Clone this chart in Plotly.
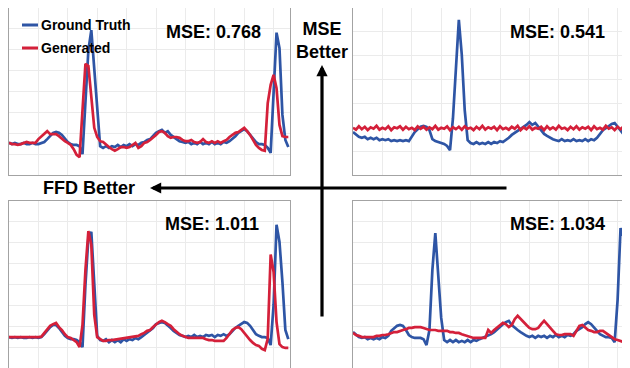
import numpy as np
import plotly.graph_objects as go

# ---------------- data ----------------
DT = 0.02  # seconds per sample

# Panel A (top-left)  MSE 0.768
gt_a = [0.02,-0.01,0.02,-0.01,-0.01,0.02,-0.01,-0.01,0.02,-0.01,-0.01,0.02,
        0.04,0.11,0.18,0.26,0.28,0.26,0.21,0.11,0.04,-0.01,-0.03,-0.03,-0.06,-0.25,
        0.93,2.24,2.72,1.77,0.93,-0.06,
        -0.10,-0.06,-0.10,-0.06,-0.08,-0.03,-0.08,-0.03,-0.06,-0.01,-0.06,-0.01,-0.03,0.02,
        0.04,0.09,0.11,0.18,0.26,0.30,0.33,0.26,0.30,0.21,0.16,0.09,0.06,0.04,
        0.02,0.04,-0.01,0.02,-0.01,0.04,-0.01,0.02,-0.01,0.04,-0.01,0.02,-0.01,0.04,0.02,
        0.06,0.11,0.18,0.26,0.30,0.35,0.30,0.21,0.11,0.04,-0.01,-0.01,-0.03,-0.10,-0.22,
        1.17,2.66,2.29,0.69,0.09,-0.08]
gen_a = [0.02,-0.01,-0.01,-0.03,-0.01,0.02,0.04,0.02,0.02,0.02,
         0.11,0.18,0.23,0.30,0.23,0.23,0.23,0.18,0.11,0.06,0.02,-0.03,-0.13,-0.27,-0.32,
         0.69,1.91,1.86,1.17,0.38,0.16,
         0.06,0.04,-0.03,-0.08,-0.13,-0.17,-0.13,-0.08,-0.08,-0.10,-0.08,-0.03,0.02,-0.10,-0.06,
         0.02,0.04,0.09,0.14,0.21,0.28,0.30,0.26,
         0.18,0.14,0.16,0.16,0.14,0.09,0.06,0.06,0.09,0.04,0.02,0.04,0.11,0.04,0.02,0.06,0.02,0.06,0.02,0.06,
         0.09,0.16,0.21,0.26,0.28,0.33,0.38,0.30,0.21,0.09,-0.03,-0.10,-0.15,-0.17,
         0.97,1.41,1.65,1.33,0.45,0.18,0.16,0.16]

# Panel B (top-right)  MSE 0.541
gt_b = [0.15,0.09,0.05,0.03,0.05,0.00,0.03,0.00,0.03,-0.02,0.00,-0.02,0.00,-0.04,-0.02,-0.04,-0.02,-0.04,-0.02,-0.04,
        0.07,0.15,0.21,0.26,0.28,0.26,0.19,0.00,-0.04,-0.06,-0.08,-0.10,-0.14,-0.23,
        0.44,1.45,2.50,1.77,0.61,-0.02,
        -0.08,-0.10,-0.06,-0.10,-0.08,-0.10,-0.06,-0.10,-0.06,-0.08,-0.04,-0.06,-0.02,
        0.03,0.09,0.13,0.17,0.21,0.26,0.30,0.36,0.30,0.34,0.26,0.17,0.11,0.07,0.03,0.00,-0.02,
        -0.04,0.00,-0.04,-0.02,-0.04,0.00,-0.04,-0.02,-0.04,0.00,-0.04,0.00,-0.02,0.03,
        0.11,0.19,0.23,0.28,0.32,0.34,0.26,0.19,0.09,0.03,0.00]
gen_b = [0.24,0.20,0.27,0.21,0.26,0.19,0.25,0.22,0.28,0.20,
         0.24,0.21,0.27,0.19,0.25,0.23,0.27,0.20,0.26,0.21,
         0.24,0.19,0.27,0.22,0.26,0.20,0.25,0.21,0.28,0.20,
         0.24,0.22,0.27,0.19,0.25,0.21,0.26,0.20,0.27,0.22,
         0.24,0.19,0.26,0.21,0.28,0.20,0.25,0.22,0.26,0.19,
         0.27,0.21,0.24,0.20,0.26,0.22,0.28,0.19,0.25,0.21,
         0.27,0.20,0.24,0.22,0.26,0.19,0.27,0.21,0.25,0.20,
         0.28,0.22,0.24,0.19,0.26,0.21,0.27,0.20,0.25,0.22,
         0.26,0.19,0.27,0.21,0.24,0.20,0.28,0.22,0.25,0.19,
         0.26,0.21,0.27,0.20,0.24]

# Panel C (bottom-left)  MSE 1.011
gt_c = [-0.01,-0.03,-0.01,-0.03,-0.01,-0.03,-0.03,-0.01,-0.03,-0.01,-0.03,-0.01,
        0.06,0.16,0.23,0.28,0.28,0.21,0.11,0.02,-0.03,-0.06,-0.06,-0.08,-0.13,-0.25,
        1.24,2.36,2.51,1.12,0.02,-0.08,
        -0.10,-0.06,-0.13,-0.08,-0.13,-0.08,-0.13,-0.06,-0.10,-0.06,-0.08,-0.03,-0.06,
        -0.01,0.04,0.09,0.14,0.21,0.30,0.33,0.35,0.33,0.28,0.21,0.14,0.09,0.04,0.02,
        -0.01,0.02,-0.01,0.04,-0.01,0.02,-0.01,0.04,0.02,0.04,-0.01,0.04,0.02,0.06,0.02,0.06,
        0.14,0.21,0.26,0.30,0.35,0.33,0.26,0.16,0.06,0.02,-0.01,-0.01,-0.03,-0.20,
        0.76,2.68,2.27,1.31,0.16,-0.06]
gen_c = [-0.01,-0.01,-0.02,-0.01,-0.02,-0.01,-0.01,-0.02,-0.01,-0.01,-0.01,0.00,
         0.09,0.18,0.26,0.30,0.33,0.23,0.16,0.06,-0.01,-0.03,-0.08,-0.13,-0.25,
         0.28,1.60,2.53,2.20,0.52,-0.01,-0.06,
         -0.10,-0.10,-0.08,-0.08,-0.07,-0.06,-0.05,-0.04,-0.03,-0.02,-0.01,0.00,0.02,
         0.06,0.09,0.14,0.16,0.23,0.30,0.35,0.38,0.35,0.30,0.26,0.18,0.11,0.06,0.02,-0.01,-0.03,
         -0.03,-0.03,-0.03,-0.03,-0.03,-0.06,-0.08,-0.08,-0.10,-0.10,-0.10,-0.10,
         -0.03,0.06,0.16,0.21,0.23,0.18,0.09,-0.01,-0.08,-0.15,-0.20,-0.22,-0.29,-0.32,
         -0.05,1.97,1.55,0.35,-0.18,-0.25,-0.27,-0.27]

# Panel D (bottom-right)  MSE 1.034
gt_d = [0.11,0.04,-0.01,-0.03,-0.01,-0.06,-0.03,-0.06,-0.03,-0.06,-0.01,-0.03,0.02,
        0.14,0.21,0.26,0.28,0.26,0.16,0.04,-0.01,-0.03,-0.03,-0.03,-0.06,-0.20,
        0.16,1.60,2.48,1.55,0.45,-0.08,
        -0.13,-0.08,-0.13,-0.08,-0.13,-0.10,-0.13,-0.08,-0.13,-0.08,-0.10,-0.06,
        -0.03,-0.01,0.02,0.06,0.11,0.18,0.23,0.30,0.35,0.38,0.28,0.21,0.16,0.11,0.06,0.02,
        -0.01,0.02,-0.03,0.02,-0.01,0.02,-0.03,0.02,-0.01,0.04,-0.01,0.02,-0.01,0.04,0.02,0.06,
        0.14,0.18,0.23,0.30,0.35,0.30,0.23,0.14,0.06,0.02,-0.01,-0.01,-0.03,-0.13,
        0.88,2.60,2.40,0.64,0.09]
gen_d = [0.09,0.04,0.02,-0.01,-0.01,-0.01,-0.01,-0.01,0.02,0.02,0.04,0.04,0.06,0.09,0.11,0.11,0.14,0.16,0.18,0.21,
         0.21,0.23,0.23,0.23,0.21,0.18,0.16,0.16,0.16,0.14,0.14,0.14,0.14,0.11,0.11,0.09,0.09,0.06,0.04,0.02,
         -0.01,-0.03,-0.03,-0.03,-0.03,-0.03,0.16,0.09,0.16,0.21,0.28,0.33,0.30,0.23,0.28,0.42,0.50,0.42,0.35,0.28,
         0.21,0.18,0.18,0.21,0.30,0.38,0.30,0.23,0.14,0.06,0.04,0.04,0.06,0.06,0.06,0.02,0.14,0.26,0.28,0.21,
         0.16,0.14,0.11,0.11,0.14,0.14,0.09,0.02,-0.03,-0.06,-0.08,-0.10,-0.13,-0.15,-0.13]

mse_labels = ["MSE: 0.768", "MSE: 0.541", "MSE: 1.011", "MSE: 1.034"]
series_names = ["Ground Truth", "Generated"]

# ---------------- style ----------------
OFF = 8                      # page body margin
W, H = 630 - OFF, 368 - OFF  # figure size that fits the window
BLUE = "#2E55A5"
RED = "#D4203A"
GRID = "#ebebeb"
BORDER = "#a3a3a3"
FONT = "Liberation Sans, Arial, sans-serif"

def px_x(p):
    return (p - OFF) / W

def px_y(p):
    return 1 - (p - OFF) / H

left_dom = [px_x(9), px_x(290)]
right_dom = [px_x(353), 1.0]
top_dom = [px_y(175), px_y(8)]
bot_dom = [0.0, px_y(201)]

panels = [
    # (gt, gen, xdom, ydom, xrange_max, yrange, right_border)
    (gt_a, gen_a, left_dom, top_dom, 281 / 147, [-0.75, 3.25], True),
    (gt_b, gen_b, right_dom, top_dom, 277 / 147, [-0.75, 2.75], False),
    (gt_c, gen_c, left_dom, bot_dom, 281 / 147, [-0.75, 3.25], True),
    (gt_d, gen_d, right_dom, bot_dom, 277 / 147, [-0.75, 3.25], False),
]

fig = go.Figure()
layout_axes = {}
for k, (gt, gen, xd, yd, xmax, yr, rb) in enumerate(panels, start=1):
    xa = "x" if k == 1 else f"x{k}"
    ya = "y" if k == 1 else f"y{k}"
    t_gt = np.arange(len(gt)) * DT
    t_gen = np.arange(len(gen)) * DT
    fig.add_trace(go.Scatter(x=t_gt, y=gt, mode="lines", name=series_names[0],
                             line=dict(color=BLUE, width=2.7), xaxis=xa, yaxis=ya,
                             showlegend=False, hoverinfo="skip"))
    fig.add_trace(go.Scatter(x=t_gen, y=gen, mode="lines", name=series_names[1],
                             line=dict(color=RED, width=2.7), xaxis=xa, yaxis=ya,
                             showlegend=False, hoverinfo="skip"))
    xkey = "xaxis" if k == 1 else f"xaxis{k}"
    ykey = "yaxis" if k == 1 else f"yaxis{k}"
    layout_axes[xkey] = dict(domain=xd, range=[0, xmax], tick0=0, dtick=0.2,
                             showgrid=True, gridcolor=GRID, gridwidth=1,
                             showticklabels=False, ticks="", zeroline=False,
                             showline=True, linecolor=BORDER, linewidth=1.2,
                             mirror=True, anchor=ya, fixedrange=True)
    layout_axes[ykey] = dict(domain=yd, range=yr, tick0=yr[0], dtick=0.5,
                             showgrid=True, gridcolor=GRID, gridwidth=1,
                             showticklabels=False, ticks="", zeroline=False,
                             showline=True, linecolor=BORDER, linewidth=1.2,
                             mirror=rb, anchor=xa, fixedrange=True)

fig.update_layout(**layout_axes)

annotations = []
# MSE labels
mse_pos = [(213, 32), (557, 32), (212, 224), (557, 224)]
for lab, (x, y) in zip(mse_labels, mse_pos):
    annotations.append(dict(text=f"<b>{lab}</b>", x=px_x(x), y=px_y(y), xref="paper", yref="paper",
                            xanchor="center", yanchor="middle", showarrow=False,
                            font=dict(family=FONT, size=18, color="black")))

# quadrant arrows
annotations.append(dict(text="", x=px_x(322), y=px_y(65), xref="paper", yref="paper",
                        ax=0, ay=253, axref="pixel", ayref="pixel", showarrow=True,
                        arrowhead=2, arrowsize=0.7, arrowwidth=3.2, arrowcolor="black", standoff=0))
annotations.append(dict(text="", x=px_x(150), y=px_y(188), xref="paper", yref="paper",
                        ax=358, ay=0, axref="pixel", ayref="pixel", showarrow=True,
                        arrowhead=2, arrowsize=0.7, arrowwidth=3.2, arrowcolor="black", standoff=0))
annotations.append(dict(text="<b>MSE</b><br><b>Better</b>", x=px_x(322), y=px_y(40.5),
                        xref="paper", yref="paper", xanchor="center", yanchor="middle",
                        showarrow=False, align="center",
                        font=dict(family=FONT, size=18, color="black")))
annotations.append(dict(text="<b>FFD Better</b>", x=px_x(88.5), y=px_y(188),
                        xref="paper", yref="paper", xanchor="center", yanchor="middle",
                        showarrow=False, font=dict(family=FONT, size=18, color="black")))

# legend (top-left panel)
shapes = []
for name, col, yy in [(series_names[0], BLUE, 25), (series_names[1], RED, 48)]:
    shapes.append(dict(type="line", xref="paper", yref="paper",
                       x0=px_x(22), x1=px_x(38), y0=px_y(yy), y1=px_y(yy),
                       line=dict(color=col, width=3)))
    annotations.append(dict(text=f"<b>{name}</b>", x=px_x(38.5), y=px_y(yy),
                            xref="paper", yref="paper", xanchor="left", yanchor="middle",
                            showarrow=False, font=dict(family=FONT, size=14, color="black")))

fig.update_layout(width=W, height=H, margin=dict(l=0, r=0, t=0, b=0),
                  paper_bgcolor="white", plot_bgcolor="white",
                  annotations=annotations, shapes=shapes, showlegend=False)

fig.write_html("out.html")
